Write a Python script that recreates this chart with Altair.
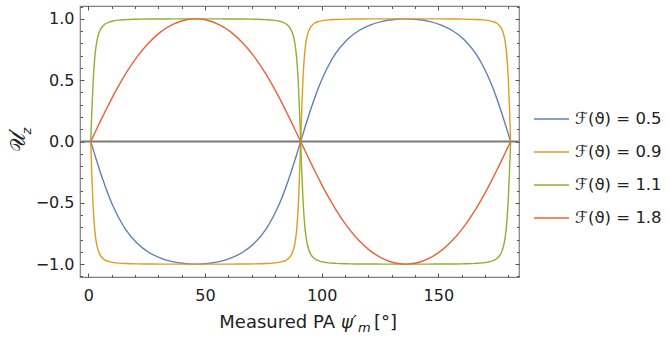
import altair as alt
import pandas as pd

# Measured position angle (degrees)
psi = [1, 1.5, 2, 2.5, 3, 3.5, 4, 5, 6, 7, 9, 11, 13, 16, 21, 26, 31, 36, 41, 46,
       51, 56, 61, 66, 71, 76, 79, 81, 83, 85, 86, 87, 88, 88.5, 89, 89.5, 90, 90.5, 91,
       91.5, 92, 92.5, 93, 93.5, 94, 95, 96, 97, 99, 101, 103, 106, 111, 116, 121,
       126, 131, 136, 141, 146, 151, 156, 161, 166, 169, 171, 173, 175, 176, 177,
       178, 178.5, 179, 179.5, 180, 180.5, 181]

u_05 = [0, -0.031, -0.062, -0.093, -0.124, -0.154, -0.184, -0.244, -0.300, -0.355,
        -0.456, -0.545, -0.622, -0.718, -0.832, -0.905, -0.951, -0.980, -0.995, -1.0,
        -0.995, -0.980, -0.951, -0.905, -0.832, -0.718, -0.622, -0.545, -0.456, -0.355,
        -0.300, -0.244, -0.184, -0.154, -0.124, -0.093, -0.062, -0.031, 0,
        0.031, 0.062, 0.093, 0.124, 0.154, 0.184, 0.244, 0.300, 0.355,
        0.456, 0.545, 0.622, 0.718, 0.832, 0.905, 0.951, 0.980, 0.995, 1.0,
        0.995, 0.980, 0.951, 0.905, 0.832, 0.718, 0.622, 0.545, 0.456, 0.355,
        0.300, 0.244, 0.184, 0.154, 0.124, 0.093, 0.062, 0.031, 0]

u_09 = [0, -0.288, -0.516, -0.670, -0.770, -0.834, -0.876, -0.924, -0.950, -0.965,
        -0.980, -0.988, -0.992, -0.995, -0.998, -0.999, -1.0, -1.0, -1.0, -1.0,
        -1.0, -1.0, -1.0, -0.999, -0.998, -0.995, -0.992, -0.988, -0.980, -0.965,
        -0.950, -0.924, -0.876, -0.834, -0.770, -0.670, -0.516, -0.288, 0,
        0.288, 0.516, 0.670, 0.770, 0.834, 0.876, 0.924, 0.950, 0.965,
        0.980, 0.988, 0.992, 0.995, 0.998, 0.999, 1.0, 1.0, 1.0, 1.0,
        1.0, 1.0, 1.0, 0.999, 0.998, 0.995, 0.992, 0.988, 0.980, 0.965,
        0.950, 0.924, 0.876, 0.834, 0.770, 0.670, 0.516, 0.288, 0]

u_11 = [0, 0.259, 0.473, 0.627, 0.733, 0.803, 0.850, 0.907, 0.938, 0.956,
        0.975, 0.984, 0.990, 0.994, 0.997, 0.999, 0.999, 1.0, 1.0, 1.0,
        1.0, 1.0, 0.999, 0.999, 0.997, 0.994, 0.990, 0.984, 0.975, 0.956,
        0.938, 0.907, 0.850, 0.803, 0.733, 0.627, 0.473, 0.259, 0,
        -0.259, -0.473, -0.627, -0.733, -0.803, -0.850, -0.907, -0.938, -0.956,
        -0.975, -0.984, -0.990, -0.994, -0.997, -0.999, -0.999, -1.0, -1.0, -1.0,
        -1.0, -1.0, -0.999, -0.999, -0.997, -0.994, -0.990, -0.984, -0.975, -0.956,
        -0.938, -0.907, -0.850, -0.803, -0.733, -0.627, -0.473, -0.259, 0]

u_18 = [0, 0.020, 0.040, 0.060, 0.080, 0.100, 0.120, 0.160, 0.199, 0.237,
        0.313, 0.386, 0.456, 0.553, 0.694, 0.808, 0.894, 0.953, 0.989, 1.0,
        0.989, 0.953, 0.894, 0.808, 0.694, 0.553, 0.456, 0.386, 0.313, 0.237,
        0.199, 0.160, 0.120, 0.100, 0.080, 0.060, 0.040, 0.020, 0,
        -0.020, -0.040, -0.060, -0.080, -0.100, -0.120, -0.160, -0.199, -0.237,
        -0.313, -0.386, -0.456, -0.553, -0.694, -0.808, -0.894, -0.953, -0.989, -1.0,
        -0.989, -0.953, -0.894, -0.808, -0.694, -0.553, -0.456, -0.386, -0.313, -0.237,
        -0.199, -0.160, -0.120, -0.100, -0.080, -0.060, -0.040, -0.020, 0]

labels = ["ℱ(ϑ) = 0.5", "ℱ(ϑ) = 0.9", "ℱ(ϑ) = 1.1", "ℱ(ϑ) = 1.8"]
colors = ["#5E81B5", "#E19C24", "#8FB032", "#EB6235"]

x_major = [0, 50, 100, 150]
x_minor = [0, 10, 20, 30, 40, 50, 60, 70, 80, 90, 100, 110, 120, 130, 140, 150, 160, 170, 180]
y_major = [-1.0, -0.5, 0.0, 0.5, 1.0]
y_minor = [-1.1, -1.0, -0.9, -0.8, -0.7, -0.6, -0.5, -0.4, -0.3, -0.2, -0.1, 0.0,
           0.1, 0.2, 0.3, 0.4, 0.5, 0.6, 0.7, 0.8, 0.9, 1.0, 1.1]

rows = []
for lab, ys in zip(labels, [u_05, u_09, u_11, u_18]):
    for xv, yv in zip(psi, ys):
        rows.append({"psi": xv, "val": yv, "series": lab})
df = pd.DataFrame(rows)

FONT = "DejaVu Sans"
TICK = "#555555"
xs = alt.Scale(domain=[-3.6, 184.6], nice=False, zero=False)
ys_ = alt.Scale(domain=[-1.105, 1.105], nice=False, zero=False)


def ax(orient, values, size, labels=False, fmt=None, pad=2):
    kw = dict(orient=orient, values=values, tickSize=size, offset=-size, domain=False,
              grid=False, title=None, labels=labels, tickColor=TICK, tickWidth=1)
    if labels:
        kw.update(labelFont=FONT, labelFontSize=16, labelColor="#222222",
                  labelPadding=pad, format=fmt)
    return alt.Axis(**kw)


zero = alt.Chart(pd.DataFrame({"z": [0]})).mark_rule(color="#7a7a7a", strokeWidth=1.8).encode(
    y=alt.Y("z:Q", scale=ys_, axis=None)
)

lines = alt.Chart(df).mark_line(strokeWidth=1.4, interpolate="monotone").encode(
    x=alt.X("psi:Q", scale=xs, axis=ax("bottom", x_major, 4, True, "d", 10)),
    y=alt.Y("val:Q", scale=ys_, axis=ax("left", y_major, 4, True, ".1f", 6)),
    color=alt.Color(
        "series:N",
        scale=alt.Scale(domain=labels, range=colors),
        legend=alt.Legend(
            orient="none", legendX=453, legendY=103, title=None,
            symbolType="stroke", symbolSize=1225, symbolStrokeWidth=1.5,
            labelFont=FONT, labelFontSize=16.5, labelColor="#222222",
            labelOffset=5, clipHeight=20, rowPadding=13,
        ),
    ),
)


def ghost(xa, ya):
    return alt.Chart(df).mark_point(opacity=0).encode(
        x=alt.X("psi:Q", scale=xs, axis=xa),
        y=alt.Y("val:Q", scale=ys_, axis=ya),
    )


g1 = ghost(ax("top", x_major, 4), ax("right", y_major, 4))
g2 = ghost(ax("bottom", x_minor, 2.5), ax("left", y_minor, 2.5))
g3 = ghost(ax("top", x_minor, 2.5), ax("right", y_minor, 2.5))

ytitle = alt.Chart(pd.DataFrame({"t": ["𝒰′"]})).mark_text(
    angle=270, font=FONT, fontSize=21, align="center", baseline="middle", color="#222222"
).encode(x=alt.value(-61), y=alt.value(134), text="t:N")
ysub = alt.Chart(pd.DataFrame({"t": ["z"]})).mark_text(
    angle=270, font=FONT, fontSize=13, fontStyle="italic", align="center",
    baseline="middle", color="#222222"
).encode(x=alt.value(-53), y=alt.value(125), text="t:N")

xt1 = alt.Chart(pd.DataFrame({"t": ["Measured PA"]})).mark_text(
    font=FONT, fontSize=18, align="right", baseline="alphabetic", color="#222222"
).encode(x=alt.value(255), y=alt.value(322), text="t:N")
xt2 = alt.Chart(pd.DataFrame({"t": ["ψ′"]})).mark_text(
    font=FONT, fontSize=18, fontStyle="italic", align="left", baseline="alphabetic",
    color="#222222"
).encode(x=alt.value(261), y=alt.value(322), text="t:N")
xt3 = alt.Chart(pd.DataFrame({"t": ["m"]})).mark_text(
    font=FONT, fontSize=13, fontStyle="italic", align="left", baseline="alphabetic",
    color="#222222"
).encode(x=alt.value(278), y=alt.value(326), text="t:N")
xt4 = alt.Chart(pd.DataFrame({"t": ["[°]"]})).mark_text(
    font=FONT, fontSize=18, align="left", baseline="alphabetic", color="#222222"
).encode(x=alt.value(294), y=alt.value(322), text="t:N")

chart = alt.layer(
    zero, lines, g1, g2, g3, ytitle, ysub, xt1, xt2, xt3, xt4
).resolve_axis(x="independent", y="independent").properties(
    width=439, height=271,
    autosize=alt.AutoSizeParams(type="none"),
    padding={"left": 80, "top": 6, "right": 151, "bottom": 62},
).configure_view(stroke="#808080", strokeWidth=1.2)

chart.save("out.html", embed_options={"renderer": "svg", "actions": False})
